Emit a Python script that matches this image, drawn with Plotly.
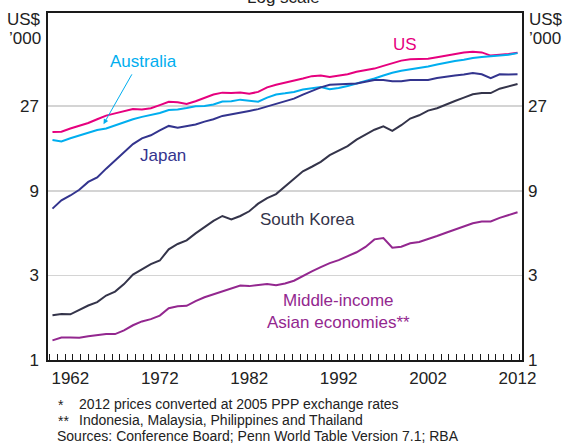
import plotly.graph_objects as go

years = list(range(1960, 2013))

us = [19.3, 19.4, 20.2, 20.9, 21.7, 22.8, 23.9, 24.6, 25.3, 26.0,
      25.9, 26.3, 27.4, 28.6, 28.4, 27.8, 28.8, 30.0, 31.4, 32.2,
      32.0, 32.3, 31.7, 32.5, 34.5, 35.7, 36.6, 37.6, 38.7, 39.9,
      40.2, 39.4, 40.2, 40.9, 42.2, 42.9, 44.0, 45.6, 47.2, 48.8,
      49.7, 49.7, 50.0, 51.0, 52.1, 53.4, 54.3, 54.8, 54.3, 52.1,
      52.5, 53.2, 54.0]

australia = [17.4, 17.1, 17.8, 18.4, 19.2, 19.8, 20.2, 21.1, 22.0, 22.8,
             23.5, 24.0, 24.7, 25.7, 25.9, 26.4, 27.0, 27.1, 27.6, 28.7,
             28.8, 29.4, 29.1, 28.6, 30.2, 31.4, 31.9, 32.5, 33.5, 34.2,
             34.6, 33.7, 34.2, 35.1, 36.2, 37.4, 38.7, 40.2, 41.7, 42.8,
             43.5, 44.2, 45.2, 46.4, 47.6, 48.5, 49.3, 50.5, 51.2, 51.4,
             52.1, 52.7, 53.8]

japan = [7.14, 7.95, 8.47, 9.12, 10.1, 10.7, 12.0, 13.3, 14.9, 16.5,
         17.8, 18.5, 19.7, 20.9, 20.4, 20.8, 21.3, 22.1, 22.8, 23.8,
         24.4, 24.8, 25.4, 26.0, 26.9, 28.1, 28.9, 29.8, 31.4, 33.0,
         34.5, 35.7, 36.0, 36.2, 36.3, 37.1, 37.9, 38.0, 37.3, 37.3,
         38.0, 38.0, 38.0, 38.9, 39.7, 40.2, 40.7, 41.5, 40.9, 38.9,
         40.9, 40.7, 40.9]

south_korea = [1.79, 1.82, 1.81, 1.92, 2.03, 2.12, 2.31, 2.43, 2.68, 3.03,
               3.26, 3.47, 3.64, 4.21, 4.51, 4.73, 5.18, 5.64, 6.09, 6.49,
               6.20, 6.49, 6.90, 7.62, 8.19, 8.62, 9.5, 10.5, 11.6, 12.3,
               13.1, 14.3, 15.1, 16.1, 17.5, 18.7, 19.9, 20.8, 19.6, 21.1,
               23.0, 24.0, 25.5, 26.3, 27.7, 28.9, 30.2, 31.5, 32.0, 32.0,
               33.9, 35.1, 36.0]

middle_income = [1.29, 1.34, 1.34, 1.335, 1.36, 1.38, 1.40, 1.40, 1.47, 1.57,
                 1.65, 1.70, 1.78, 1.96, 2.01, 2.02, 2.15, 2.26, 2.35, 2.43,
                 2.55, 2.63, 2.61, 2.65, 2.68, 2.64, 2.70, 2.80, 2.99, 3.16,
                 3.34, 3.52, 3.66, 3.83, 4.05, 4.34, 4.79, 4.87, 4.30, 4.35,
                 4.55, 4.63, 4.79, 5.00, 5.22, 5.45, 5.71, 5.91, 6.04, 6.04,
                 6.33, 6.55, 6.81]

x_tick_years = [1962, 1972, 1982, 1992, 2002, 2012]
y_tick_values = [1, 3, 9, 27]
y_tick_labels = ["1", "3", "9", "27"]

C_US = "#E6007E"
C_AUS = "#00AEEF"
C_JP = "#33348E"
C_KOR = "#34344A"
C_MID = "#93278F"

FONT = "Liberation Sans, Arial, sans-serif"
TXT = "#222222"

# plot area in pixels
L, R, T, B = 48, 521.7, 11.3, 360
W, H = 563, 443


def px(xp):
    return (xp - L) / (R - L)


def py(yp):
    return (B - yp) / (B - T)


fig = go.Figure()
series = [
    (us, C_US), (australia, C_AUS), (japan, C_JP),
    (south_korea, C_KOR), (middle_income, C_MID),
]
for vals, col in series:
    fig.add_trace(go.Scatter(x=years, y=vals, mode="lines",
                             line=dict(color=col, width=2),
                             showlegend=False, hoverinfo="skip"))

# invisible trace for right axis
fig.add_trace(go.Scatter(x=[years[0]], y=[1], yaxis="y2", mode="lines",
                         line=dict(width=0), showlegend=False, hoverinfo="skip"))

yrange = [0, 1.957]
fig.update_layout(
    width=W, height=H,
    margin=dict(l=L, r=W - R, t=T, b=H - B),
    paper_bgcolor="white", plot_bgcolor="white",
    font=dict(family=FONT, size=17, color=TXT),
    xaxis=dict(
        range=[1959.5, 2012.5], showgrid=False, zeroline=False,
        tickvals=x_tick_years, ticktext=[str(v) for v in x_tick_years],
        ticks="", showline=True, linecolor="#1a1a1a", linewidth=1.7,
        mirror=True, tickfont=dict(size=17, color=TXT),
        ticklabelstandoff=2,
        minor=dict(tick0=1960.54, dtick=0.8757, ticks="inside",
                   ticklen=6, tickcolor="#1a1a1a", tickwidth=1,
                   showgrid=False),
    ),
    yaxis=dict(
        type="log", range=yrange, tickvals=y_tick_values,
        ticktext=y_tick_labels, ticks="", showgrid=True,
        gridcolor="#d4d4d4", gridwidth=1.5, zeroline=False,
        showline=True, linecolor="#1a1a1a", linewidth=1.7, mirror=True,
        tickfont=dict(size=17, color=TXT), ticklabelstandoff=4,
    ),
    yaxis2=dict(
        type="log", range=yrange, tickvals=y_tick_values,
        ticktext=y_tick_labels, overlaying="y", side="right",
        showgrid=False, zeroline=False, ticks="", showline=False,
        tickfont=dict(size=17, color=TXT), ticklabelstandoff=5,
    ),
)

ann = []


def text(s, xp, yp, color=TXT, size=17, xanchor="center", yanchor="middle",
         align="center", pad=1):
    ann.append(dict(text=s, x=px(xp), y=py(yp), xref="paper", yref="paper",
                    showarrow=False, xanchor=xanchor, yanchor=yanchor, align=align,
                    borderpad=pad,
                    font=dict(family=FONT, size=size, color=color)))


# header
text("Log scale", 283.5, -4)
text("US$", 43.5, 18, xanchor="right")
text("’000", 43.5, 37, xanchor="right")
text("US$", 527, 18, xanchor="left")
text("’000", 527, 37, xanchor="left")

# series labels
text("US", 405, 43, color=C_US)
text("Australia", 143, 60, color=C_AUS)
text("Japan", 163, 154, color=C_JP)
text("South Korea", 307.5, 219, color=C_KOR)
text("Middle-income", 338, 300.5, color=C_MID)
text("Asian economies**", 338, 322, color=C_MID)

# arrow for Australia
ann.append(dict(text="", x=px(103.5), y=py(123), xref="paper", yref="paper",
                ax=132.7 - 103.5, ay=71.7 - 123, axref="pixel", ayref="pixel",
                showarrow=True, arrowhead=2, arrowsize=1, arrowwidth=1,
                arrowcolor=C_AUS))

# footnotes
FN = 14
text("*", 57, 405, size=FN, xanchor="left", pad=0)
text("2012 prices converted at 2005 PPP exchange rates", 78, 404, size=FN, xanchor="left", pad=0)
text("**", 57, 421, size=FN, xanchor="left", pad=0)
text("Indonesia, Malaysia, Philippines and Thailand", 78, 420, size=FN, xanchor="left", pad=0)
text("Sources: Conference Board; Penn World Table Version 7.1; RBA", 55.6, 436, size=FN, xanchor="left", pad=0)

fig.update_layout(annotations=ann)
fig.write_html("out.html",
               config={"displayModeBar": False, "staticPlot": True},
               post_script="document.body.style.margin='0';document.body.style.overflow='hidden';")
